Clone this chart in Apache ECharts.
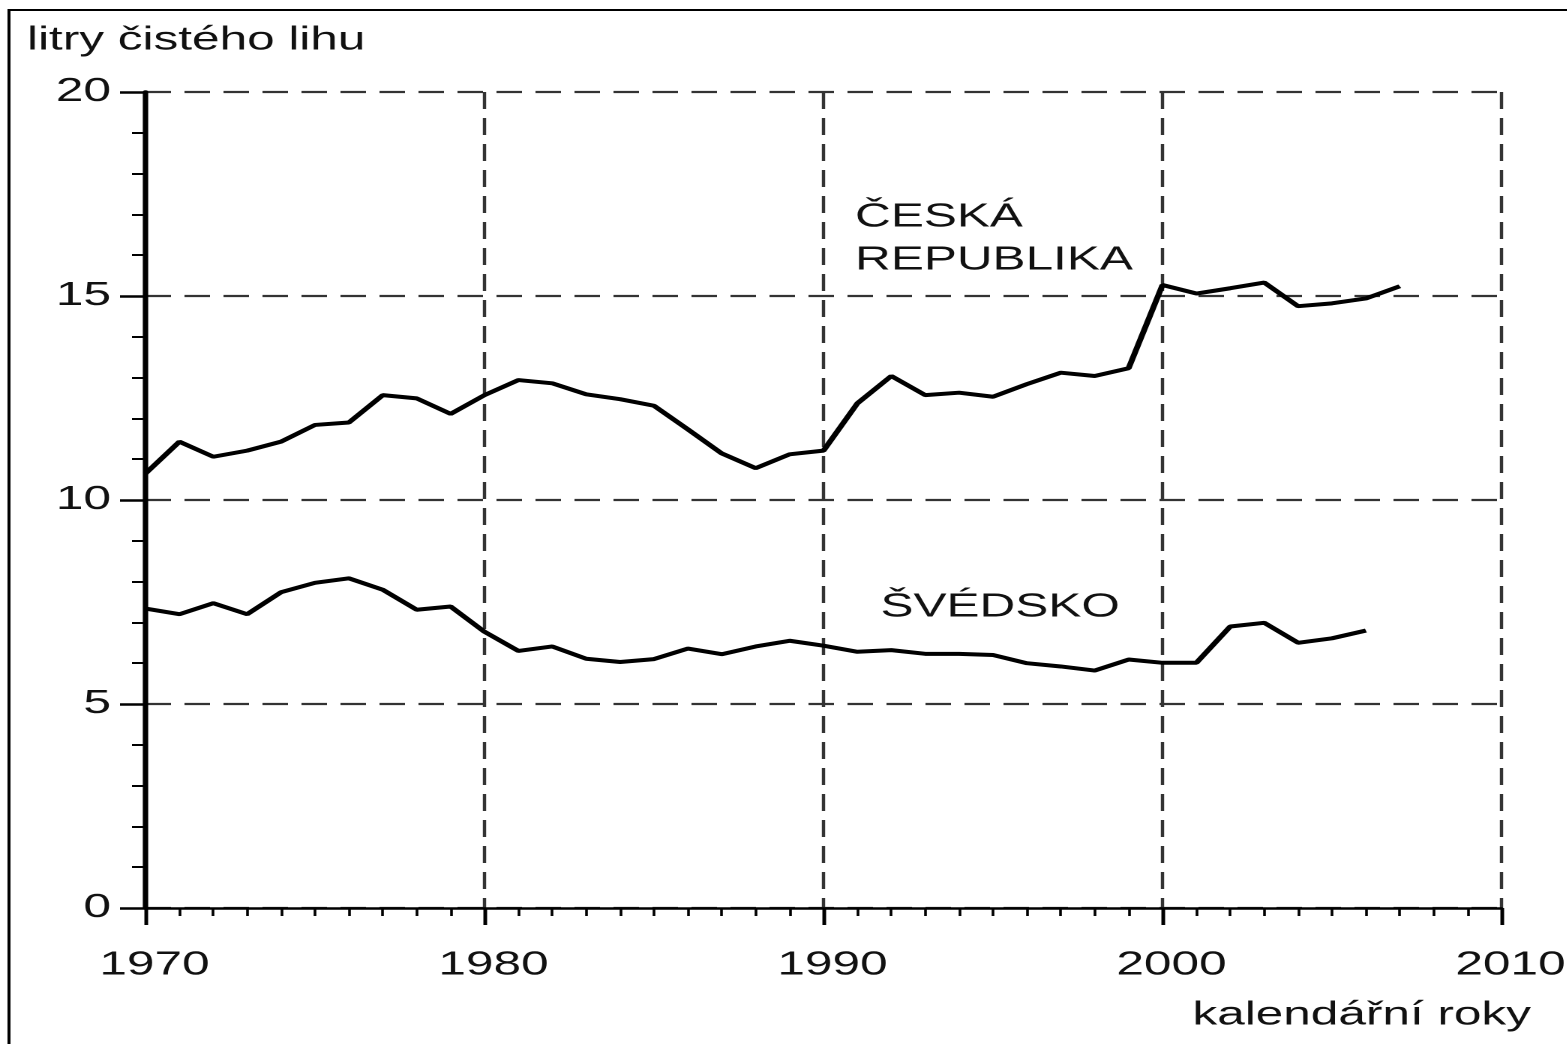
<!DOCTYPE html>
<html>
<head>
<meta charset="utf-8">
<script src="https://cdn.jsdelivr.net/npm/echarts@6/dist/echarts.min.js"></script>
<style>
    html, body {
        margin: 0;
        padding: 0;
        background: #fff;
        overflow: hidden;
    }
    /* the original picture is stretched sideways, so draw narrow and scale */
    #chart {
        width: 1045px;
        height: 1044px;
        transform: scaleX(1.5);
        transform-origin: 0 0;
    }
</style>
</head>
<body>
<div id="chart"></div>
<script>
    // years 1970 .. 2007
    var czYears = [1970, 1971, 1972, 1973, 1974, 1975, 1976, 1977, 1978, 1979,
        1980, 1981, 1982, 1983, 1984, 1985, 1986, 1987, 1988, 1989,
        1990, 1991, 1992, 1993, 1994, 1995, 1996, 1997, 1998, 1999,
        2000, 2001, 2002, 2003, 2004, 2005, 2006, 2007];
    var czValues = [10.65, 11.43, 11.06, 11.21, 11.43, 11.84, 11.9, 12.57, 12.49, 12.11,
        12.57, 12.94, 12.86, 12.59, 12.47, 12.31, 11.73, 11.14, 10.78, 11.12,
        11.21, 12.37, 13.04, 12.57, 12.63, 12.53, 12.84, 13.12, 13.04, 13.23,
        15.27, 15.06, 15.19, 15.33, 14.75, 14.82, 14.94, 15.24];

    var seYears = czYears.slice(0, 37);
    var seValues = [7.34, 7.2, 7.47, 7.2, 7.74, 7.97, 8.08, 7.8, 7.31, 7.39,
        6.77, 6.3, 6.41, 6.11, 6.03, 6.1, 6.36, 6.22, 6.41, 6.55,
        6.43, 6.28, 6.32, 6.23, 6.23, 6.2, 6.0, 5.92, 5.82, 6.09,
        6.01, 6.01, 6.9, 6.99, 6.5, 6.61, 6.8];

    var yTitle = 'litry čistého lihu';
    var xTitle = 'kalendářní roky';
    var czLabel = ['ČESKÁ', 'REPUBLIKA'];
    var seLabel = 'ŠVÉDSKO';

    function pairs(xs, ys) {
        return xs.map(function (x, i) { return [x, ys[i]]; });
    }

    var font = 'Liberation Sans, Arial, sans-serif';
    var gridLine = {
        show: true,
        lineStyle: { color: '#333', width: 2.2, type: [17, 9] }
    };

    var myChart = echarts.init(document.getElementById('chart'), null, { devicePixelRatio: 2 });
    var option = {
        animation: false,
        backgroundColor: '#fff',
        grid: {
            left: 97,
            right: 44,
            top: 92,
            bottom: 136,
            outerBoundsMode: 'none'
        },
        xAxis: {
            type: 'value',
            min: 1970,
            max: 2010,
            interval: 10,
            axisLine: { show: true, onZero: false, lineStyle: { color: '#000', width: 2.5 } },
            axisTick: { show: true, length: 17, lineStyle: { color: '#000', width: 2.5 } },
            minorTick: { show: true, splitNumber: 10, length: 8, lineStyle: { color: '#000', width: 1.8 } },
            axisLabel: {
                show: true,
                showMinLabel: true,
                showMaxLabel: true,
                margin: 41,
                padding: [0, 0, 0, 12],
                color: '#111',
                fontFamily: font,
                fontSize: 33,
                formatter: function (v) { return String(v); }
            },
            splitLine: gridLine
        },
        yAxis: {
            type: 'value',
            min: 0,
            max: 20,
            interval: 5,
            axisLine: { show: true, onZero: false, lineStyle: { color: '#000', width: 3.6 } },
            axisTick: { show: true, length: 17, lineStyle: { color: '#000', width: 2.5 } },
            minorTick: { show: true, splitNumber: 5, length: 9, lineStyle: { color: '#000', width: 2 } },
            axisLabel: {
                margin: 23,
                padding: [10, 0, 0, 0],
                color: '#111',
                fontFamily: font,
                fontSize: 33
            },
            splitLine: gridLine
        },
        graphic: [
            {
                type: 'rect',
                shape: { x: 6, y: 10, width: 1200, height: 1200 },
                style: { fill: 'none', stroke: '#000', lineWidth: 2 },
                silent: true
            },
            {
                type: 'text', left: 18, top: 24,
                style: { text: yTitle, fill: '#111', font: '33px ' + font }
            },
            {
                type: 'text', left: 795, top: 999,
                style: { text: xTitle, fill: '#111', font: '33px ' + font }
            },
            {
                type: 'text', left: 570, top: 201,
                style: { text: czLabel[0], fill: '#111', font: '33px ' + font }
            },
            {
                type: 'text', left: 570, top: 244,
                style: { text: czLabel[1], fill: '#111', font: '33px ' + font }
            },
            {
                type: 'text', left: 587, top: 591,
                style: { text: seLabel, fill: '#111', font: '33px ' + font }
            }
        ],
        series: [
            {
                name: 'Česká republika',
                type: 'line',
                data: pairs(czYears, czValues),
                showSymbol: false,
                symbol: 'none',
                lineStyle: { color: '#000', width: 4 },
                z: 5
            },
            {
                name: 'Švédsko',
                type: 'line',
                data: pairs(seYears, seValues),
                showSymbol: false,
                symbol: 'none',
                lineStyle: { color: '#000', width: 4 },
                z: 5
            }
        ]
    };
    myChart.setOption(option);
</script>
</body>
</html>
